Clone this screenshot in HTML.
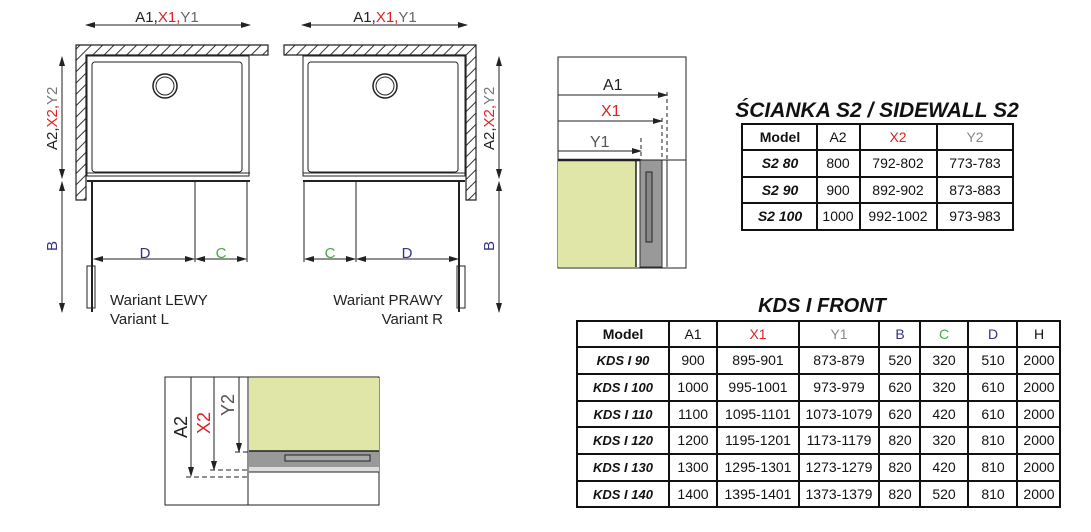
<!DOCTYPE html>
<html><head><meta charset="utf-8"><style>
body{margin:0;background:#fff;width:1091px;height:532px;overflow:hidden}
svg{display:block;font-family:"Liberation Sans",sans-serif}
</style></head><body>
<svg width="1091" height="532" viewBox="0 0 1091 532" xmlns="http://www.w3.org/2000/svg">
<defs>
<pattern id="h" width="8" height="8" patternUnits="userSpaceOnUse" patternTransform="rotate(45)"><rect width="8" height="8" fill="#fff"/><line x1="0" y1="0" x2="0" y2="8" stroke="#333" stroke-width="2"/></pattern>
<marker id="a" markerWidth="10" markerHeight="8" refX="9" refY="4" orient="auto-start-reverse" markerUnits="userSpaceOnUse"><path d="M0,1 L10,4 L0,7z" fill="#222"/></marker>
</defs>
<g stroke="#222" fill="none" stroke-width="1">
<!-- LEFT drawing -->
<text x="167" y="22" font-size="15" text-anchor="middle" stroke="none" fill="#222">A1,<tspan fill="#d22">X1,</tspan><tspan fill="#666">Y1</tspan></text>
<line x1="86" y1="25" x2="250" y2="25" marker-start="url(#a)" marker-end="url(#a)"/>
<path d="M76,45 H268 V55 H86 V200 H76Z" fill="url(#h)" stroke-width="1.2"/>
<rect x="92" y="62" width="150" height="110" rx="3"/>
<rect x="87" y="56" width="162" height="120"/>
<circle cx="165" cy="86" r="12" stroke-width="1.5"/><circle cx="165" cy="86" r="9"/>
<line x1="87" y1="173" x2="250" y2="173" stroke-width="1"/>
<line x1="87" y1="181" x2="250" y2="181" stroke-width="2"/>
<line x1="92" y1="182" x2="92" y2="312" stroke-width="2"/>
<rect x="87" y="266" width="8" height="42"/>
<line x1="195" y1="180" x2="195" y2="262"/><line x1="247" y1="180" x2="247" y2="262"/>
<line x1="94" y1="259" x2="194" y2="259" marker-start="url(#a)" marker-end="url(#a)"/>
<line x1="196" y1="259" x2="246" y2="259" marker-start="url(#a)" marker-end="url(#a)"/>
<line x1="62" y1="57" x2="62" y2="178" marker-start="url(#a)" marker-end="url(#a)"/>
<line x1="62" y1="182" x2="62" y2="312" marker-start="url(#a)" marker-end="url(#a)"/>
<g stroke="none" font-size="15">
<text x="145" y="258" fill="#338" text-anchor="middle">D</text>
<text x="221" y="258" fill="#4a4" text-anchor="middle">C</text>
<text transform="translate(57,150) rotate(-90)" fill="#222">A2,<tspan fill="#d22">X2,</tspan><tspan fill="#777">Y2</tspan></text>
<text transform="translate(57,251) rotate(-90)" fill="#338">B</text>
<text x="110" y="305" fill="#222">Wariant LEWY</text>
<text x="110" y="324" fill="#222">Variant L</text>
</g>
<!-- RIGHT drawing -->
<text x="385" y="22" font-size="15" text-anchor="middle" stroke="none" fill="#222">A1,<tspan fill="#d22">X1,</tspan><tspan fill="#666">Y1</tspan></text>
<line x1="302" y1="25" x2="467" y2="25" marker-start="url(#a)" marker-end="url(#a)"/>
<path d="M284,45 H476 V200 H466 V55 H284Z" fill="url(#h)" stroke-width="1.2"/>
<rect x="308" y="62" width="150" height="110" rx="3"/>
<rect x="303" y="56" width="162" height="120"/>
<circle cx="385" cy="86" r="12" stroke-width="1.5"/><circle cx="385" cy="86" r="9"/>
<line x1="303" y1="173" x2="465" y2="173"/>
<line x1="303" y1="181" x2="465" y2="181" stroke-width="2"/>
<line x1="459" y1="182" x2="459" y2="312" stroke-width="2"/>
<rect x="457" y="266" width="8" height="42"/>
<line x1="304" y1="180" x2="304" y2="262"/><line x1="356" y1="180" x2="356" y2="262"/>
<line x1="305" y1="259" x2="355" y2="259" marker-start="url(#a)" marker-end="url(#a)"/>
<line x1="357" y1="259" x2="458" y2="259" marker-start="url(#a)" marker-end="url(#a)"/>
<line x1="499" y1="57" x2="499" y2="178" marker-start="url(#a)" marker-end="url(#a)"/>
<line x1="499" y1="182" x2="499" y2="312" marker-start="url(#a)" marker-end="url(#a)"/>
<g stroke="none" font-size="15">
<text x="330" y="258" fill="#4a4" text-anchor="middle">C</text>
<text x="407" y="258" fill="#338" text-anchor="middle">D</text>
<text transform="translate(494,150) rotate(-90)" fill="#222">A2,<tspan fill="#d22">X2,</tspan><tspan fill="#777">Y2</tspan></text>
<text transform="translate(494,251) rotate(-90)" fill="#338">B</text>
<text x="443" y="305" fill="#222" text-anchor="end">Wariant PRAWY</text>
<text x="443" y="324" fill="#222" text-anchor="end">Variant R</text>
</g>
<!-- middle detail -->
<rect x="558" y="57" width="128" height="211"/>
<rect x="558" y="160" width="78" height="107" fill="#e0e6a8" stroke="none"/>
<rect x="640" y="160" width="22" height="107" fill="#999" stroke="#333"/>
<rect x="646" y="172" width="6" height="70" fill="#888" stroke="#222"/>
<line x1="558" y1="160" x2="686" y2="160"/>
<line x1="558" y1="160" x2="640" y2="160" stroke-width="2.5"/>
<line x1="667" y1="92" x2="667" y2="160" stroke-dasharray="4,3"/>
<line x1="662" y1="118" x2="662" y2="160" stroke-dasharray="4,3"/>
<line x1="641" y1="138" x2="641" y2="160" stroke-dasharray="4,3"/>
<line x1="667" y1="160" x2="667" y2="267"/>
<line x1="636" y1="160" x2="636" y2="267" stroke-width="1.5"/>
<line x1="558" y1="95" x2="667" y2="95" marker-end="url(#a)"/>
<line x1="558" y1="121" x2="662" y2="121" marker-end="url(#a)"/>
<line x1="558" y1="151" x2="641" y2="151" marker-end="url(#a)"/>
<g stroke="none" font-size="16">
<text x="603" y="90" fill="#222">A1</text>
<text x="601" y="116" fill="#d22">X1</text>
<text x="590" y="147" fill="#555">Y1</text>
</g>
<!-- bottom detail -->
<rect x="165" y="377" width="214" height="128"/>
<rect x="249" y="378" width="130" height="73" fill="#e0e6a8" stroke="none"/>
<rect x="249" y="451" width="130" height="16" fill="#999" stroke="none"/>
<rect x="249" y="467" width="130" height="5" fill="#ddd" stroke="none"/>
<line x1="249" y1="451" x2="379" y2="451" stroke-width="1.5"/>
<line x1="249" y1="472" x2="379" y2="472"/>
<rect x="285" y="455" width="85" height="6" fill="#aaa"/>
<line x1="248" y1="377" x2="248" y2="505"/>
<line x1="191" y1="377" x2="191" y2="476" marker-end="url(#a)"/>
<line x1="214" y1="377" x2="214" y2="470" marker-end="url(#a)"/>
<line x1="239" y1="377" x2="239" y2="452" marker-end="url(#a)"/>
<line x1="186" y1="477" x2="249" y2="477" stroke-dasharray="5,3"/>
<line x1="210" y1="470" x2="249" y2="470" stroke-dasharray="5,3"/>
<line x1="235" y1="452" x2="249" y2="452" stroke-dasharray="5,3"/>
<g stroke="none" font-size="18">
<text transform="translate(187,438) rotate(-90)" fill="#222">A2</text>
<text transform="translate(210,434) rotate(-90)" fill="#d22">X2</text>
<text transform="translate(234,416) rotate(-90)" fill="#555">Y2</text>
</g>
</g>
<!-- S2 table -->
<g font-family="Liberation Sans,sans-serif">
<text x="877" y="117" font-size="21" font-weight="bold" font-style="italic" text-anchor="middle" fill="#111">ŚCIANKA S2 / SIDEWALL S2</text>
<g stroke="#111" stroke-width="2" fill="none">
<rect x="742" y="124" width="271" height="106"/>
<line x1="742" y1="150" x2="1013" y2="150"/><line x1="742" y1="177" x2="1013" y2="177"/><line x1="742" y1="203" x2="1013" y2="203"/>
<line x1="817" y1="124" x2="817" y2="230"/><line x1="860" y1="124" x2="860" y2="230"/><line x1="937" y1="124" x2="937" y2="230"/>
</g>
<g font-size="14" text-anchor="middle" fill="#111">
<text x="780" y="142" font-weight="bold">Model</text><text x="838" y="142">A2</text><text x="898" y="142" fill="#d22">X2</text><text x="975" y="142" fill="#888">Y2</text>
<text x="780" y="168" font-weight="bold" font-style="italic">S2 80</text><text x="838" y="168">800</text><text x="898" y="168">792-802</text><text x="975" y="168">773-783</text>
<text x="780" y="195" font-weight="bold" font-style="italic">S2 90</text><text x="838" y="195">900</text><text x="898" y="195">892-902</text><text x="975" y="195">873-883</text>
<text x="780" y="221" font-weight="bold" font-style="italic">S2 100</text><text x="838" y="221">1000</text><text x="898" y="221">992-1002</text><text x="975" y="221">973-983</text>
</g>
<!-- KDS table -->
<text x="822" y="312" font-size="20" font-weight="bold" font-style="italic" text-anchor="middle" fill="#111">KDS I FRONT</text>
<g stroke="#111" stroke-width="2" fill="none">
<rect x="577" y="321" width="483" height="186"/>
<line x1="577" y1="347" x2="1060" y2="347"/><line x1="577" y1="374" x2="1060" y2="374"/><line x1="577" y1="401" x2="1060" y2="401"/><line x1="577" y1="427" x2="1060" y2="427"/><line x1="577" y1="454" x2="1060" y2="454"/><line x1="577" y1="481" x2="1060" y2="481"/>
<line x1="669" y1="321" x2="669" y2="507"/><line x1="717" y1="321" x2="717" y2="507"/><line x1="799" y1="321" x2="799" y2="507"/><line x1="879" y1="321" x2="879" y2="507"/><line x1="920" y1="321" x2="920" y2="507"/><line x1="968" y1="321" x2="968" y2="507"/><line x1="1017" y1="321" x2="1017" y2="507"/>
</g>
<g font-size="14" text-anchor="middle" fill="#111">
<text x="623" y="339" font-weight="bold">Model</text><text x="693" y="339">A1</text><text x="758" y="339" fill="#d22">X1</text><text x="839" y="339" fill="#888">Y1</text><text x="900" y="339" fill="#338">B</text><text x="944" y="339" fill="#4a4">C</text><text x="993" y="339" fill="#338">D</text><text x="1039" y="339">H</text>
<g font-weight="bold" font-style="italic" font-size="13">
<text x="623" y="365">KDS I 90</text><text x="623" y="392">KDS I 100</text><text x="623" y="419">KDS I 110</text><text x="623" y="445">KDS I 120</text><text x="623" y="472">KDS I 130</text><text x="623" y="499">KDS I 140</text>
</g>
<text x="693" y="365">900</text><text x="758" y="365">895-901</text><text x="839" y="365">873-879</text><text x="900" y="365">520</text><text x="944" y="365">320</text><text x="993" y="365">510</text><text x="1039" y="365">2000</text>
<text x="693" y="392">1000</text><text x="758" y="392">995-1001</text><text x="839" y="392">973-979</text><text x="900" y="392">620</text><text x="944" y="392">320</text><text x="993" y="392">610</text><text x="1039" y="392">2000</text>
<text x="693" y="419">1100</text><text x="758" y="419">1095-1101</text><text x="839" y="419">1073-1079</text><text x="900" y="419">620</text><text x="944" y="419">420</text><text x="993" y="419">610</text><text x="1039" y="419">2000</text>
<text x="693" y="445">1200</text><text x="758" y="445">1195-1201</text><text x="839" y="445">1173-1179</text><text x="900" y="445">820</text><text x="944" y="445">320</text><text x="993" y="445">810</text><text x="1039" y="445">2000</text>
<text x="693" y="472">1300</text><text x="758" y="472">1295-1301</text><text x="839" y="472">1273-1279</text><text x="900" y="472">820</text><text x="944" y="472">420</text><text x="993" y="472">810</text><text x="1039" y="472">2000</text>
<text x="693" y="499">1400</text><text x="758" y="499">1395-1401</text><text x="839" y="499">1373-1379</text><text x="900" y="499">820</text><text x="944" y="499">520</text><text x="993" y="499">810</text><text x="1039" y="499">2000</text>
</g>
</g>
</svg>
</body></html>
